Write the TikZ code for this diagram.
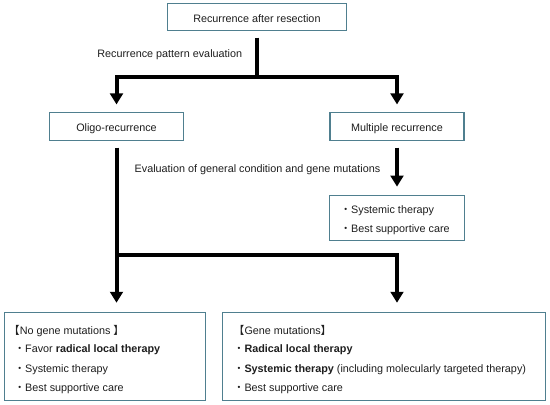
\documentclass[tikz,border=0pt]{standalone}
\usepackage{fontspec}
\setmainfont{Liberation Sans}
\newfontfamily\cjk{Noto Sans CJK JP}
\usetikzlibrary{arrows.meta}
\definecolor{boxc}{RGB}{79,127,143}
\definecolor{txtc}{RGB}{30,30,30}
\begin{document}
\begin{tikzpicture}[x=1pt,y=-1pt,
  every node/.style={font=\fontsize{10.8}{13}\selectfont, inner sep=0pt, text=txtc},
  box/.style={draw=boxc, line width=1.1pt, text height=10pt, text depth=0pt},
  conn/.style={line width=4pt},
  arr/.style={line width=4pt, -{Triangle[width=12.7pt,length=11pt]}},
  txt/.style={anchor=base west},
  lbl/.style={anchor=base east}]
\useasboundingbox[fill=white] (0,0) rectangle (550,405);

% boxes
\node[box, minimum width=178.3pt, minimum height=27.4pt] (top) at (256.9,17) {Recurrence after resection};
\node[box, minimum width=134pt, minimum height=28pt] (oligo) at (116.5,126.7) {Oligo-recurrence};
\node[box, minimum width=134pt, minimum height=28pt] (multi) at (397,126.7) {Multiple recurrence};
\node[box, minimum width=134.7pt, minimum height=45pt] (mbox) at (397,218.2) {};
\node[box, minimum width=201.3pt, minimum height=88.2pt] (nogene) at (104.85,356.4) {};
\node[box, minimum width=323.4pt, minimum height=88.2pt] (gene) at (384,356.4) {};

% labels
\node[lbl] (lab1) at (242.3,57.4) {Recurrence pattern evaluation};
\node[lbl] (lab2) at (380.5,172.2) {Evaluation of general condition and gene mutations};

% small box text
\node[txt] (m1) at (340.2,213.5) {{\cjk ・}Systemic therapy};
\node[txt] (m2) at (340.2,232.8) {{\cjk ・}Best supportive care};

% left box text
\node[txt] (a0) at (8.8,334.5) {{\cjk 【}No gene mutations {\cjk 】}};
\node[txt] (a1) at (14.2,352.8) {{\cjk ・}Favor \textbf{radical local therapy}};
\node[txt] (a2) at (14.2,372.3) {{\cjk ・}Systemic therapy};
\node[txt] (a3) at (14.2,391.3) {{\cjk ・}Best supportive care};

% right box text
\node[txt] (b0) at (233.5,334.5) {{\cjk 【}Gene mutations{\cjk 】}};
\node[txt] (b1) at (233.5,352.8) {{\cjk ・}\textbf{Radical local therapy}};
\node[txt] (b2) at (233.5,372.3) {{\cjk ・}\textbf{Systemic therapy} (including molecularly targeted therapy)};
\node[txt] (b3) at (233.5,391.3) {{\cjk ・}Best supportive care};

% connectors
\coordinate (j1) at (256.9,77.3);
\coordinate (j2) at (116.5,255);
\draw[conn, shorten <=6.3pt] (top.south) -- (j1);
\draw[arr, shorten >=7.7pt] (j1) -| (oligo.north);
\draw[arr, shorten >=7.7pt] (j1) -| (multi.north);
\draw[arr, shorten <=6.3pt, shorten >=8.5pt] (multi.south) -- (mbox.north);
\draw[arr, shorten <=6.3pt, shorten >=9pt] (oligo.south) -- (oligo.south |- nogene.north);
\draw[arr, shorten >=9pt] (j2) -| (gene.north -| multi.south);
\end{tikzpicture}
\end{document}
